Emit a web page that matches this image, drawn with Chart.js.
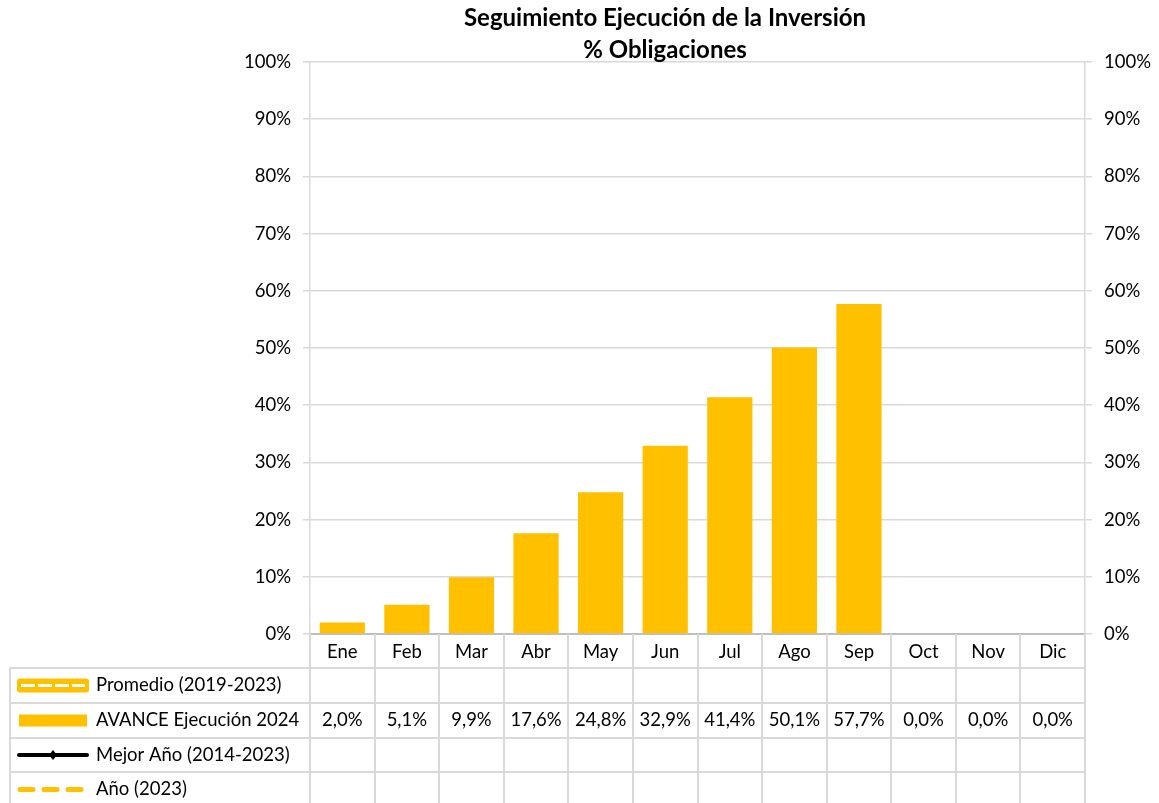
<!DOCTYPE html>
<html>
<head>
<meta charset="utf-8">
<script src="https://cdn.jsdelivr.net/npm/chart.js@4/dist/chart.umd.min.js"></script>
<style>
  body { margin: 0; background: #fff; }
  #wrap { width: 1159px; height: 803px; position: relative; }
</style>
</head>
<body>
<div id="wrap"><canvas id="obligaciones-chart"></canvas></div>
<script>
// Chart data
var months = ["Ene", "Feb", "Mar", "Abr", "May", "Jun", "Jul", "Ago", "Sep", "Oct", "Nov", "Dic"]
var avance2024 = [2.0, 5.1, 9.9, 17.6, 24.8, 32.9, 41.4, 50.1, 57.7, 0.0, 0.0, 0.0]
var promedio = [null, null, null, null, null, null, null, null, null, null, null, null]
var mejorAnio = [null, null, null, null, null, null, null, null, null, null, null, null]
var anio2023 = [null, null, null, null, null, null, null, null, null, null, null, null]
var titleLines = ["Seguimiento Ejecución de la Inversión", "% Obligaciones"]

var gold = "#FFC000"
var gridGray = "#d9d9d9"
var fontName = "Lato, 'Open Sans', sans-serif"
var fontSize = 18.5

// Title drawn above the plot area
var titlePlugin = {
    id: "titleLines",
    afterDraw: function (chart) {
        var ctx = chart.ctx
        ctx.save()
        ctx.fillStyle = "#000"
        ctx.font = "bold 24px " + fontName
        ctx.textAlign = "center"
        ctx.textBaseline = "middle"
        ctx.fillText(titleLines[0], 665, 18)
        ctx.fillText(titleLines[1], 665, 50)
        ctx.restore()
    }
}

// Legend key for each row of the data table
function drawKey(ctx, kind, x, y) {
    ctx.save()
    if (kind === "promedio") {
        ctx.fillStyle = gold
        ctx.beginPath()
        ctx.roundRect(x, y - 7, 72, 14, 3)
        ctx.fill()
        ctx.strokeStyle = "#fff"
        ctx.lineWidth = 3
        ctx.setLineDash([14, 3])
        ctx.beginPath()
        ctx.moveTo(x + 4, y)
        ctx.lineTo(x + 68, y)
        ctx.stroke()
    } else if (kind === "avance") {
        ctx.fillStyle = gold
        ctx.fillRect(x + 2, y - 6, 68, 12)
    } else if (kind === "mejor") {
        ctx.strokeStyle = "#000"
        ctx.lineWidth = 4
        ctx.lineCap = "round"
        ctx.beginPath()
        ctx.moveTo(x + 2, y)
        ctx.lineTo(x + 70, y)
        ctx.stroke()
        ctx.fillStyle = "#000"
        ctx.beginPath()
        ctx.moveTo(x + 36, y - 5)
        ctx.lineTo(x + 40, y)
        ctx.lineTo(x + 36, y + 5)
        ctx.lineTo(x + 32, y)
        ctx.closePath()
        ctx.fill()
    } else {
        ctx.strokeStyle = gold
        ctx.lineWidth = 5
        ctx.lineCap = "round"
        ctx.setLineDash([13, 11])
        ctx.beginPath()
        ctx.moveTo(x + 3, y)
        ctx.lineTo(x + 64, y)
        ctx.stroke()
    }
    ctx.restore()
}

// Data table under the x axis
var tablePlugin = {
    id: "dataTable",
    afterDraw: function (chart) {
        var ctx = chart.ctx
        var xs = chart.scales.x
        var area = chart.chartArea
        var step = (xs.right - xs.left) / months.length
        var rowTops = [668, 703, 738, 772, 807]
        var tableLeft = 10

        ctx.save()
        ctx.strokeStyle = gridGray
        ctx.lineWidth = 2

        // vertical lines
        for (var i = 0; i <= months.length; i++) {
            var vx = Math.round(xs.left + i * step)
            ctx.beginPath()
            ctx.moveTo(vx, area.bottom)
            ctx.lineTo(vx, chart.height)
            ctx.stroke()
        }
        ctx.beginPath()
        ctx.moveTo(tableLeft, rowTops[0])
        ctx.lineTo(tableLeft, chart.height)
        ctx.stroke()

        // horizontal lines
        for (var r = 0; r < rowTops.length; r++) {
            ctx.beginPath()
            ctx.moveTo(tableLeft, rowTops[r])
            ctx.lineTo(xs.right, rowTops[r])
            ctx.stroke()
        }

        // rows
        var rows = chart.data.datasets.slice().sort(function (a, b) { return a.rowOrder - b.rowOrder })
        ctx.font = fontSize + "px " + fontName
        ctx.textBaseline = "middle"
        rows.forEach(function (ds, r) {
            var cy = (rowTops[r] + rowTops[r + 1]) / 2
            drawKey(ctx, ds.keyKind, 17, cy)
            ctx.fillStyle = "#000"
            ctx.textAlign = "left"
            ctx.fillText(ds.label, 96, cy)
            ctx.textAlign = "center"
            ds.data.forEach(function (v, i) {
                if (v === null) return
                var cx = xs.getPixelForValue(i)
                ctx.fillText(v.toFixed(1).replace(".", ",") + "%", cx, cy)
            })
        })
        ctx.restore()
    }
}

function createChart() {
    new Chart("obligaciones-chart", {
        type: "bar",
        data: {
            labels: months,
            datasets: [
                { type: "line", label: "Promedio (2019-2023)", data: promedio, borderColor: gold, keyKind: "promedio", rowOrder: 0, yAxisID: "y" },
                { type: "bar", label: "AVANCE Ejecución 2024", data: avance2024, backgroundColor: gold, keyKind: "avance", rowOrder: 1, categoryPercentage: 0.7, barPercentage: 1, yAxisID: "y", order: 5 },
                { type: "line", label: "Mejor Año (2014-2023)", data: mejorAnio, borderColor: "#000", keyKind: "mejor", rowOrder: 2, yAxisID: "y" },
                { type: "line", label: "Año (2023)", data: anio2023, borderColor: gold, borderDash: [12, 12], keyKind: "anio", rowOrder: 3, yAxisID: "y" }
            ]
        },
        options: {
            responsive: true,
            maintainAspectRatio: false,
            animation: false,
            layout: { padding: { top: 62, left: 240, right: 0, bottom: 135 } },
            plugins: {
                legend: { display: false },
                title: { display: false },
                tooltip: { enabled: false }
            },
            scales: {
                x: {
                    grid: { display: false, drawTicks: false },
                    border: { color: "#bfbfbf", width: 2 },
                    ticks: { color: "#000", font: { family: fontName, size: fontSize }, padding: 7, maxRotation: 0 },
                    afterFit: function (s) { s.height = 34 }
                },
                y: {
                    position: "left",
                    min: 0,
                    max: 100,
                    grid: { color: gridGray, lineWidth: 1.5, tickLength: 7 },
                    border: { color: gridGray, width: 1.5 },
                    ticks: { stepSize: 10, color: "#000", padding: 12, font: { family: fontName, size: fontSize }, callback: function (v) { return v + "%" } },
                    afterFit: function (s) { s.width = 70 }
                },
                y2: {
                    position: "right",
                    min: 0,
                    max: 100,
                    grid: { drawOnChartArea: false, color: gridGray, lineWidth: 1.5, tickLength: 7 },
                    border: { color: gridGray, width: 1.5 },
                    ticks: { stepSize: 10, color: "#000", padding: 12, font: { family: fontName, size: fontSize }, callback: function (v) { return v + "%" } },
                    afterFit: function (s) { s.width = 74 }
                }
            }
        },
        plugins: [titlePlugin, tablePlugin]
    })
}

createChart()
</script>
</body>
</html>
